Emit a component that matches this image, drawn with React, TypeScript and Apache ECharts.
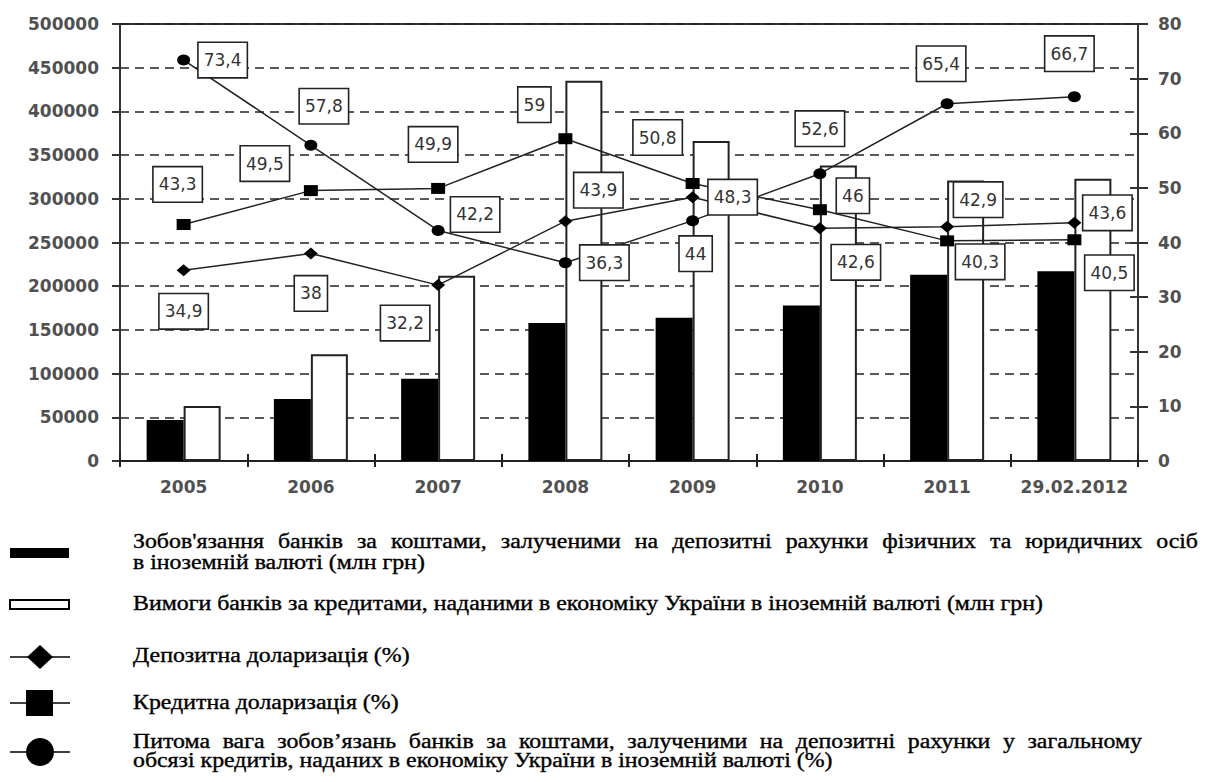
import React, { useEffect, useRef } from "react";
import * as echarts from "echarts";

// ---- data ----
const categories = ["2005", "2006", "2007", "2008", "2009", "2010", "2011", "29.02.2012"];
const depositLiabilities = [47000, 71000, 94000, 158000, 164000, 178000, 213000, 217000];
const loanClaims = [63000, 122000, 212000, 435000, 366000, 338000, 321000, 323000];
const depositDollarization = [34.9, 38, 32.2, 43.9, 48.3, 42.6, 42.9, 43.6];
const creditDollarization = [43.3, 49.5, 49.9, 59, 50.8, 46, 40.3, 40.5];
const liabilitiesShare = [73.4, 57.8, 42.2, 36.3, 44, 52.6, 65.4, 66.7];

const leftAxisMax = 500000;
const leftAxisStep = 50000;
const rightAxisMax = 80;
const rightAxisStep = 10;

// label placement offsets (pixels, relative to the marker)
const depositLabelOffsets = [[0, 41], [0, 40], [-33, 38], [33, -31], [40, 0], [36, 34], [31, -27], [33, -10]];
const creditLabelOffsets = [[-6, -40], [-46, -27], [-5, -44], [-31, -34], [-35, -46], [33, -14], [33, 21], [35, 33]];
const shareLabelOffsets = [[39, 0], [13, -39], [37, -16], [39, 0], [3, 33], [0, -45], [-6, -40], [-5, -43]];

const legendTexts = {
  l1a: "Зобов'язання банків за коштами, залученими на депозитні рахунки фізичних та юридичних осіб",
  l1b: "в іноземній валюті (млн грн)",
  l2: "Вимоги банків за кредитами, наданими в економіку України в іноземній валюті (млн грн)",
  l3: "Депозитна доларизація (%)",
  l4: "Кредитна доларизація (%)",
  l5a: "Питома вага зобов’язань банків за коштами, залученими на депозитні рахунки у загальному",
  l5b: "обсязі кредитів, наданих в економіку України в іноземній валюті (%)",
};

const fmt = (v: number) => String(v).replace(".", ",");

const axisFont = {
  fontFamily: "DejaVu Sans",
  fontWeight: "bold" as const,
  fontSize: 17,
  color: "#505050",
};

const boxLabel = {
  show: true,
  position: "inside" as const,
  fontFamily: "DejaVu Sans",
  fontSize: 17,
  color: "#333",
  backgroundColor: "#fff",
  borderColor: "#222",
  borderWidth: 1.6,
  padding: [9, 5, 8, 5],
  formatter: (p: any) => fmt(p.value),
};

function withOffsets(values: number[], offsets: number[][]) {
  return values.map((v, i) => ({ value: v, label: { offset: offsets[i] } }));
}

export default function App() {
  const ref = useRef<HTMLDivElement>(null);

  useEffect(() => {
    if (!ref.current) return;
    const chart = echarts.init(ref.current, undefined, { renderer: "svg" });

    // legend text layout
    const FONT_SIZE = 20;
    const FONT_FAMILY = "Liberation Serif";
    const canvas = document.createElement("canvas");
    const ctx = canvas.getContext("2d")!;
    ctx.font = `${FONT_SIZE}px "${FONT_FAMILY}", serif`;
    const measure = (t: string) => ctx.measureText(t).width;
    const textX = 133;
    const sx = (1043 - textX) / measure(legendTexts.l2);

    const textEl = (t: string, x: number, y: number) => ({
      type: "text",
      x,
      y,
      scaleX: sx,
      style: {
        text: t,
        fontSize: FONT_SIZE,
        fontFamily: "'Liberation Serif', serif",
        fill: "#000",
        stroke: "#000",
        lineWidth: 0.35,
        align: "left",
        verticalAlign: "middle",
      },
    });

    const justified = (t: string, y: number, right: number) => {
      const words = t.split(" ");
      const widths = words.map((w) => measure(w) * sx);
      const total = widths.reduce((a, b) => a + b, 0);
      const gap = (right - textX - total) / (words.length - 1);
      let x = textX;
      return words.map((w, i) => {
        const el = textEl(w, x, y);
        x += widths[i] + gap;
        return el;
      });
    };

    const iconLine = (y: number) => ({
      type: "line",
      shape: { x1: 10, y1: y, x2: 70, y2: y },
      style: { stroke: "#000", lineWidth: 1.5 },
    });

    const graphic: any[] = [
      // row 1
      { type: "rect", shape: { x: 10, y: 548, width: 59, height: 10 }, style: { fill: "#000" } },
      ...justified(legendTexts.l1a, 541, 1198),
      textEl(legendTexts.l1b, textX, 562),
      // row 2
      { type: "rect", shape: { x: 10, y: 600, width: 59, height: 9 }, style: { fill: "#fff", stroke: "#000", lineWidth: 2 } },
      textEl(legendTexts.l2, textX, 603),
      // row 3
      iconLine(657),
      { type: "polygon", shape: { points: [[40, 645], [53, 657], [40, 669], [27, 657]] }, style: { fill: "#000" } },
      textEl(legendTexts.l3, textX, 655),
      // row 4
      iconLine(703),
      { type: "rect", shape: { x: 26, y: 690, width: 27, height: 26 }, style: { fill: "#000" } },
      textEl(legendTexts.l4, textX, 702),
      // row 5
      iconLine(752),
      { type: "circle", shape: { cx: 40, cy: 752, r: 14 }, style: { fill: "#000" } },
      ...justified(legendTexts.l5a, 741, 1142),
      textEl(legendTexts.l5b, textX, 760),
    ];

    const option: any = {
      animation: false,
      backgroundColor: "#fff",
      grid: {
        left: 120,
        right: 67,
        top: 24,
        bottom: 321,
        show: true,
        borderColor: "#333",
        borderWidth: 2,
        backgroundColor: "transparent",
      },
      xAxis: [
        {
          type: "category",
          data: categories,
          position: "bottom",
          axisLine: { lineStyle: { color: "#222", width: 2 } },
          axisTick: { show: true, length: 6, lineStyle: { color: "#222", width: 2 } },
          axisLabel: { ...axisFont, margin: 17, interval: 0 },
          splitLine: { show: false },
        },
        {
          type: "category",
          data: categories,
          position: "bottom",
          axisLine: { show: false },
          axisTick: { show: true, inside: true, length: 7, lineStyle: { color: "#222", width: 2 } },
          axisLabel: { show: false },
          splitLine: { show: false },
        },
      ],
      yAxis: [
        {
          type: "value",
          min: 0,
          max: leftAxisMax,
          interval: leftAxisStep,
          position: "left",
          axisLine: { show: true, lineStyle: { color: "#333", width: 2 } },
          axisTick: { show: true, length: 8, lineStyle: { color: "#333", width: 2 } },
          axisLabel: { ...axisFont, margin: 21, formatter: (v: number) => String(v) },
          splitLine: { show: true, lineStyle: { color: "#222", width: 1.6, type: [9, 6] } },
        },
        {
          type: "value",
          min: 0,
          max: rightAxisMax,
          interval: rightAxisStep,
          position: "right",
          axisLine: { show: true, lineStyle: { color: "#333", width: 2 } },
          axisTick: { show: true, length: 10, lineStyle: { color: "#333", width: 2 } },
          axisLabel: { ...axisFont, margin: 20, formatter: (v: number) => String(v) },
          splitLine: { show: false },
        },
        {
          type: "value",
          min: 0,
          max: rightAxisMax,
          interval: rightAxisStep,
          position: "right",
          axisLine: { show: false },
          axisTick: { show: true, inside: true, length: 8, lineStyle: { color: "#333", width: 2 } },
          axisLabel: { show: false },
          splitLine: { show: false },
        },
      ],
      series: [
        {
          name: "Зобов'язання банків",
          type: "bar",
          yAxisIndex: 0,
          data: depositLiabilities,
          barWidth: 37,
          barGap: "0%",
          itemStyle: { color: "#000" },
        },
        {
          name: "Вимоги банків",
          type: "bar",
          yAxisIndex: 0,
          data: loanClaims,
          barWidth: 37,
          barGap: "0%",
          itemStyle: { color: "#fff", borderColor: "#222", borderWidth: 2 },
        },
        {
          name: "Депозитна доларизація (%)",
          type: "line",
          yAxisIndex: 1,
          data: withOffsets(depositDollarization, depositLabelOffsets),
          symbol: "diamond",
          symbolSize: [14, 12],
          lineStyle: { color: "#222", width: 1.5 },
          itemStyle: { color: "#000" },
          label: boxLabel,
          z: 3,
        },
        {
          name: "Кредитна доларизація (%)",
          type: "line",
          yAxisIndex: 1,
          data: withOffsets(creditDollarization, creditLabelOffsets),
          symbol: "rect",
          symbolSize: [14, 11],
          lineStyle: { color: "#222", width: 1.5 },
          itemStyle: { color: "#000" },
          label: boxLabel,
          z: 3,
        },
        {
          name: "Питома вага",
          type: "line",
          yAxisIndex: 1,
          data: withOffsets(liabilitiesShare, shareLabelOffsets),
          symbol: "circle",
          symbolSize: [13, 11],
          lineStyle: { color: "#222", width: 1.5 },
          itemStyle: { color: "#000" },
          label: boxLabel,
          z: 3,
        },
      ],
      graphic,
    };

    chart.setOption(option);
    return () => chart.dispose();
  }, []);

  return (
    <div
      ref={ref}
      style={{ position: "fixed", left: 0, top: 0, width: 1205, height: 782, background: "#fff" }}
    />
  );
}
